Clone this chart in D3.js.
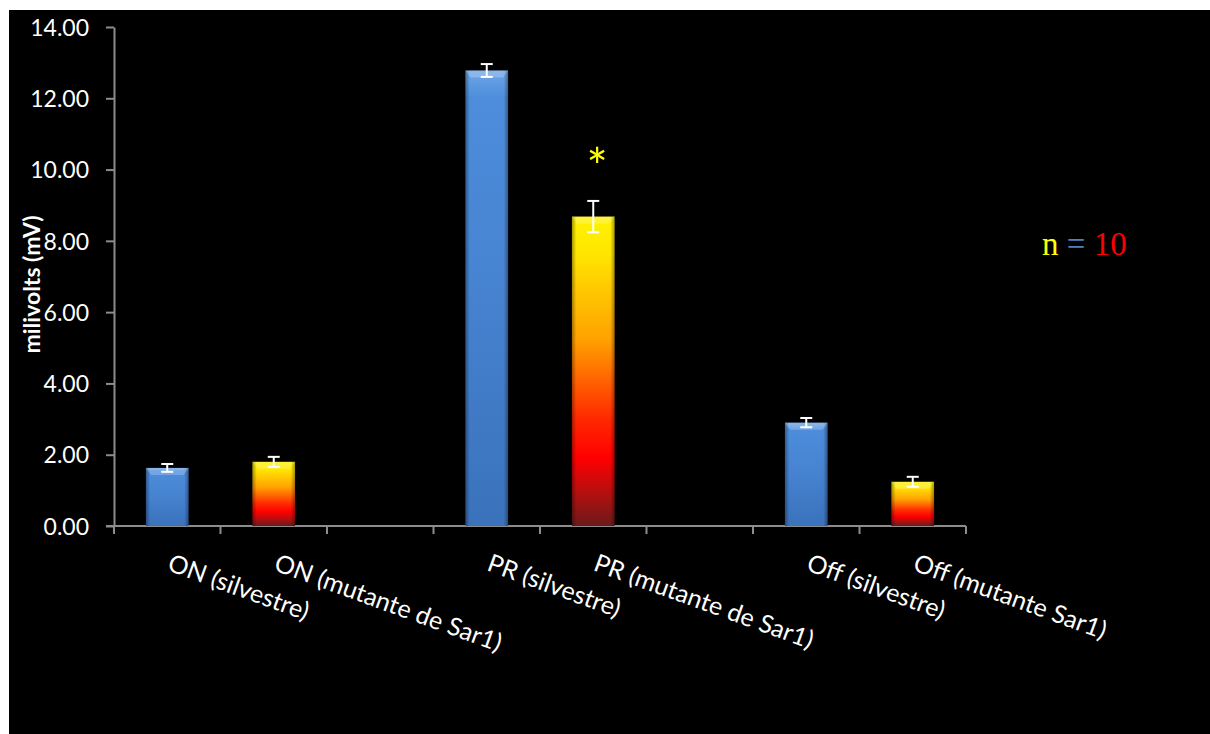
<!DOCTYPE html>
<html><head><meta charset="utf-8">
<script src="https://cdn.jsdelivr.net/npm/d3@7"></script>
<style>body{margin:0;background:#fff}svg{display:block}</style>
</head><body>
<script>
const categories = ["ON (silvestre)","ON (mutante de Sar1)","","PR (silvestre)","PR (mutante de Sar1)","","Off (silvestre)","Off (mutante Sar1)"];
const values = [1.63, 1.80, null, 12.78, 8.68, null, 2.90, 1.24];
const errors = [0.11, 0.14, null, 0.18, 0.44, null, 0.13, 0.14];
const kinds  = ["wt","mut",null,"wt","mut",null,"wt","mut"];
const yTicks = [0,2,4,6,8,10,12,14];
const yLabel = "milivolts (mV)";
const significant = [4];

const W=1210,H=734;
const svg=d3.select("body").append("svg").attr("width",W).attr("height",H);
svg.append("rect").attr("x",9).attr("y",10).attr("width",W-9).attr("height",H-10).attr("fill","#000");

const defs=svg.append("defs");
const gb=defs.append("linearGradient").attr("id","gBlue").attr("x1",0).attr("y1",0).attr("x2",0).attr("y2",1);
[[0,"#6fa6e8"],[0.06,"#4d8ddb"],[0.5,"#4682d0"],[1,"#3a72bb"]].forEach(s=>gb.append("stop").attr("offset",s[0]).attr("stop-color",s[1]));
const gm=defs.append("linearGradient").attr("id","gMut").attr("x1",0).attr("y1",0).attr("x2",0).attr("y2",1);
[[0,"#fff200"],[0.12,"#ffe600"],[0.4,"#ffa000"],[0.65,"#ff2a00"],[0.78,"#ff0000"],[0.9,"#b01010"],[1,"#6a1a1a"]].forEach(s=>gm.append("stop").attr("offset",s[0]).attr("stop-color",s[1]));
const ge=defs.append("linearGradient").attr("id","gEdge").attr("x1",0).attr("y1",0).attr("x2",1).attr("y2",0);
[[0,"rgba(0,0,0,0.35)"],[0.1,"rgba(0,0,0,0)"],[0.9,"rgba(0,0,0,0)"],[1,"rgba(0,0,0,0.35)"]].forEach(s=>ge.append("stop").attr("offset",s[0]).attr("stop-color",s[1]));

const x0=114,x1=966,y0=526,y1=27;
const x=d3.scaleBand().domain(d3.range(categories.length)).range([x0,x1]).paddingInner(0).paddingOuter(0);
const y=d3.scaleLinear().domain([0,14]).range([y0,y1]);
const bw=x.bandwidth()/2.5;
const sans="Lato, 'Open Sans', sans-serif";

const ya=svg.append("g").attr("transform",`translate(${x0},0)`)
  .call(d3.axisLeft(y).tickValues(yTicks).tickFormat(d3.format(".2f")).tickSize(8).tickSizeOuter(0));
ya.select(".domain").attr("stroke","#8c8c8c").attr("stroke-width",2);
ya.selectAll(".tick line").attr("stroke","#8c8c8c").attr("stroke-width",2);
ya.selectAll(".tick text").attr("fill","#fff").attr("font-family",sans).attr("font-size",23).attr("x",-25).attr("dy","0.36em");

const xa=svg.append("g").attr("transform",`translate(0,${y0})`);
xa.append("line").attr("x1",x0-8).attr("x2",x1).attr("y1",0).attr("y2",0).attr("stroke","#8c8c8c").attr("stroke-width",2);
const tickPos=d3.range(categories.length+1).map(i=>x0+i*x.bandwidth());
xa.selectAll("line.t").data(tickPos).join("line").attr("class","t")
  .attr("x1",d=>d).attr("x2",d=>d).attr("y1",0).attr("y2",8).attr("stroke","#8c8c8c").attr("stroke-width",2);

const bars=svg.append("g");
categories.forEach((c,i)=>{
  if(values[i]==null) return;
  const cx=x(i)+x.bandwidth()/2, bx=cx-bw/2, top=y(values[i]);
  const h=y0-top;
  bars.append("rect").attr("x",bx).attr("y",top).attr("width",bw).attr("height",h)
    .attr("fill",kinds[i]==="wt"?"url(#gBlue)":"url(#gMut)");
  bars.append("rect").attr("x",bx).attr("y",top).attr("width",bw).attr("height",h).attr("fill","url(#gEdge)");
  bars.append("path").attr("d",`M${bx},${top}L${bx+bw},${top}L${bx+bw-5},${top+7}L${bx+5},${top+7}Z`)
    .attr("fill","rgba(255,255,255,0.22)");
  const e=errors[i], yt=y(values[i]+e), yb=y(values[i]-e);
  const eg=svg.append("g").attr("stroke","#fff").attr("stroke-width",2);
  eg.append("line").attr("x1",cx).attr("x2",cx).attr("y1",yt).attr("y2",yb);
  eg.append("line").attr("x1",cx-6).attr("x2",cx+6).attr("y1",yt).attr("y2",yt);
  eg.append("line").attr("x1",cx-6).attr("x2",cx+6).attr("y1",yb).attr("y2",yb);
});

significant.forEach(i=>{
  const cx=x(i)+x.bandwidth()/2;
  svg.append("text").attr("x",cx+4).attr("y",y(values[i]+errors[i])-16)
    .attr("text-anchor","middle").attr("fill","#ffff00").attr("font-family",sans)
    .attr("font-size",50).text("*");
});

categories.forEach((c,i)=>{
  if(!c) return;
  const cx=x(i)+x.bandwidth()/2;
  svg.append("text").attr("transform",`translate(${cx-1},${y0+44}) rotate(20)`)
    .attr("fill","#fff").attr("font-family",sans).attr("font-size",25)
    .attr("text-anchor","start").text(c);
});

svg.append("text").attr("transform",`translate(40,${(y0+y1)/2+8}) rotate(-90)`)
  .attr("text-anchor","middle").attr("fill","#fff").attr("font-weight","bold")
  .attr("font-family",sans).attr("font-size",23).text(yLabel);

const nt=svg.append("text").attr("x",1042).attr("y",255).attr("font-family","'Liberation Serif','DejaVu Serif',serif").attr("font-size",33);
nt.append("tspan").attr("fill","#ffff00").text("n ");
nt.append("tspan").attr("fill","#4f81bd").text("= ");
nt.append("tspan").attr("fill","#ff0000").text("10");
</script>
</body></html>
